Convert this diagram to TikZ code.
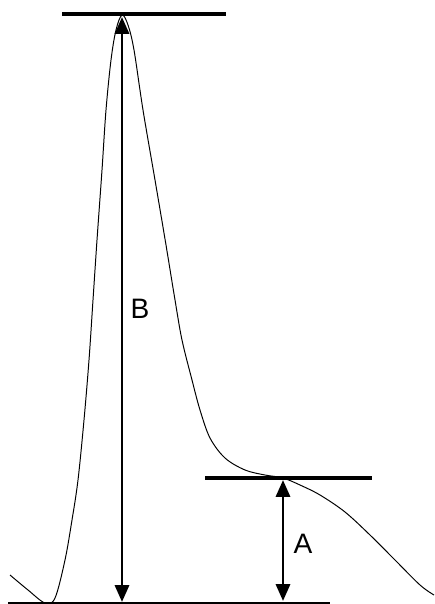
\documentclass[tikz,border=0pt]{standalone}
\usepackage{fontspec}
\setmainfont{Liberation Sans}
\usetikzlibrary{arrows.meta,positioning}

\begin{document}
\begin{tikzpicture}[x=0.025cm, y=-0.025cm,
    level/.style={line width=2.6pt},
    measure/.style={{Triangle[width=10pt,length=12pt]}-{Triangle[width=10pt,length=12pt]}, line width=2.1pt},
    baseline/.style={line width=1pt},
    signal/.style={line width=0.7pt},
    lbl/.style={font=\fontsize{20}{23}\selectfont, inner sep=0pt}
]
    \useasboundingbox (0,0) rectangle (434,604);

    \coordinate (peakL) at (62,14);
    \coordinate (peakR) at (226,14);
    \coordinate (shL) at (205,478);
    \coordinate (shR) at (372,478);
    \coordinate (baseL) at (8,603);
    \coordinate (baseR) at (330,603);

    \coordinate (Btop) at (122,17);
    \coordinate (Bbot) at (122,602);
    \coordinate (Atop) at (283,480);
    \coordinate (Abot) at (283,601);

    % signal curve
    \draw[signal] plot[smooth, tension=0.55] coordinates {
        (10,575) (28,590) (45,603) (55,598) (65,560) (72,520) (78,480)
        (84,420) (89,360) (93,300) (97,240) (102,170) (106,110) (111,60)
        (116,30) (122,15) (128,25) (134,50) (143,110) (155,180) (166,245)
        (175,300) (182,340) (192,380) (200,410) (210,438) (225,458)
        (245,470) (265,475) (283,478) (300,485) (320,495) (345,512)
        (370,535) (395,560) (420,585) (434,595)};

    \draw[level] (peakL) -- (peakR);
    \draw[level] (shL) -- (shR);
    \draw[baseline] (baseL) -- (baseR);

    \draw[measure] (Bbot) -- (Btop);
    \draw[measure] (Abot) -- (Atop);

    \node[lbl] (labB) at (140,309) {B};
    \node[lbl] (labA) at (303,544) {A};
\end{tikzpicture}
\end{document}
